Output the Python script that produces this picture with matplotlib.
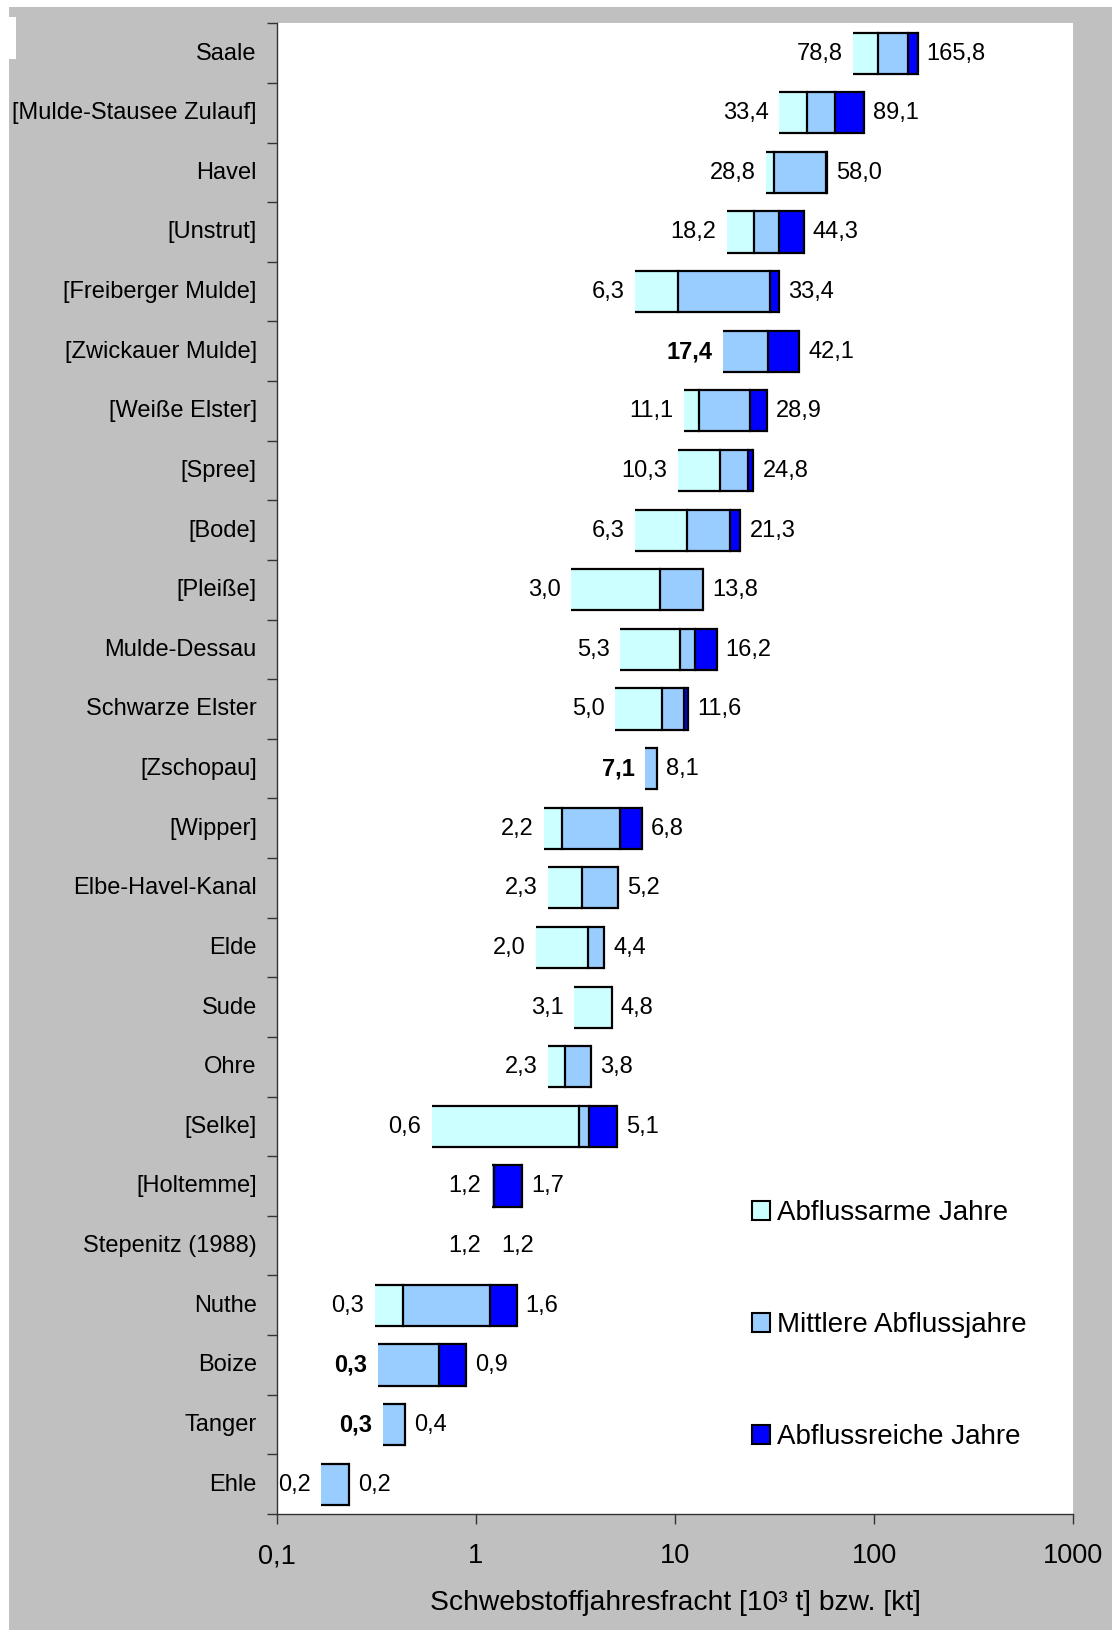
import matplotlib
matplotlib.use("Agg")
import matplotlib.pyplot as plt
import matplotlib.transforms as mtransforms
from matplotlib.patches import Patch, Rectangle
from matplotlib.ticker import FixedLocator, NullLocator, FuncFormatter

plt.rcParams['font.family'] = ['Liberation Sans', 'DejaVu Sans']

# Gewässer (von oben nach unten)
gewaesser = [
    "Saale", "[Mulde-Stausee Zulauf]", "Havel", "[Unstrut]", "[Freiberger Mulde]",
    "[Zwickauer Mulde]", "[Weiße Elster]", "[Spree]", "[Bode]", "[Pleiße]",
    "Mulde-Dessau", "Schwarze Elster", "[Zschopau]", "[Wipper]", "Elbe-Havel-Kanal",
    "Elde", "Sude", "Ohre", "[Selke]", "[Holtemme]",
    "Stepenitz (1988)", "Nuthe", "Boize", "Tanger", "Ehle",
]

# Schwebstoffjahresfracht in kt: Minimum, Grenzen der Abflussklassen, Maximum
fracht_min = [78.8, 33.4, 28.8, 18.2, 6.3, 17.4, 11.1, 10.3, 6.3, 3.0,
              5.3, 5.0, 7.1, 2.2, 2.3, 2.0, 3.1, 2.3, 0.6, 1.2,
              1.2, 0.31, 0.32, 0.34, 0.167]
grenze_arm = [105.0, 46.0, 31.5, 24.9, 10.3, 17.4, 13.2, 16.9, 11.45, 8.4,
              10.6, 8.6, 7.1, 2.7, 3.42, 3.67, 4.8, 2.8, 3.29, 1.2,
              1.2, 0.43, 0.32, 0.34, 0.167]
grenze_mittel = [148.0, 63.7, 57.6, 33.4, 30.1, 29.2, 23.7, 23.4, 18.8, 13.8,
                 12.65, 11.1, 8.1, 5.27, 5.2, 4.4, 4.8, 3.8, 3.68, 1.23,
                 1.2, 1.17, 0.65, 0.44, 0.23]
fracht_max = [165.8, 89.1, 58.0, 44.3, 33.4, 42.1, 28.9, 24.8, 21.3, 13.8,
              16.2, 11.6, 8.1, 6.8, 5.2, 4.4, 4.8, 3.8, 5.1, 1.7,
              1.2, 1.6, 0.89, 0.44, 0.23]

reihen = ["Abflussarme Jahre", "Mittlere Abflussjahre", "Abflussreiche Jahre"]
farben = ["#CCFFFF", "#99CCFF", "#0000FF"]

x_ticks = [0.1, 1, 10, 100, 1000]
x_tick_labels = ["0,1", "1", "10", "100", "1000"]

# Minimalwerte, die fett beschriftet werden
fett_min = {"[Zwickauer Mulde]", "[Zschopau]", "Boize", "Tanger"}

W, H = 1112, 1630
fig = plt.figure(figsize=(W / 100, H / 100), dpi=100, facecolor="white")

# grauer Diagrammbereich mit schmalem weißen Rand
fig.patches.append(Rectangle((9 / W, 0), 1 - 9 / W, 1 - 7 / H, transform=fig.transFigure,
                             facecolor="#C0C0C0", edgecolor="none", zorder=-10))
fig.patches.append(Rectangle((9 / W, 1 - 59 / H), 7 / W, 42 / H, transform=fig.transFigure,
                             facecolor="white", edgecolor="none", zorder=-9))

left, right = 277 / W, 1073 / W
bottom, top = (H - 1514) / H, (H - 23.3) / H
ax = fig.add_axes([left, bottom, right - left, top - bottom])
ax.set_facecolor("white")

n = len(gewaesser)
pos = list(range(n))
hoehe = 0.69

segmente = [
    (fracht_min, grenze_arm),
    (grenze_arm, grenze_mittel),
    (grenze_mittel, fracht_max),
]
for (start, ende), farbe in zip(segmente, farben):
    breiten = [e - s for s, e in zip(start, ende)]
    ax.barh(pos, breiten, left=start, height=hoehe, color=farbe,
            edgecolor="none", linewidth=0, zorder=2)

# Umrandung: oben, unten und an jeder Segmentgrenze
lw = 1.6
for i in range(n):
    lo, hi = fracht_min[i], fracht_max[i]
    if hi <= lo:
        continue
    y0, y1 = i - hoehe / 2, i + hoehe / 2
    ax.plot([lo, hi], [y0, y0], color="black", lw=lw, zorder=3, solid_capstyle="butt")
    ax.plot([lo, hi], [y1, y1], color="black", lw=lw, zorder=3, solid_capstyle="butt")
    kanten = [grenze_arm[i], grenze_mittel[i], hi]
    for k in sorted(set(kanten)):
        if lo < k <= hi:
            ax.plot([k, k], [y0, y1], color="black", lw=lw, zorder=3, solid_capstyle="projecting")

# Wertebeschriftungen
def fmt(v):
    return f"{v:.1f}".replace(".", ",")

for i, name in enumerate(gewaesser):
    ax.annotate(fmt(fracht_min[i]), xy=(fracht_min[i], i), xytext=(-7.5, -0.3),
                textcoords="offset points", ha="right", va="center", fontsize=17,
                fontweight="bold" if name in fett_min else "normal", zorder=4)
    ax.annotate(fmt(fracht_max[i]), xy=(fracht_max[i], i), xytext=(6.5, -0.3),
                textcoords="offset points", ha="left", va="center", fontsize=17, zorder=4)

ax.set_xscale("log")
ax.set_xlim(0.1, 1000)
ax.set_ylim(n - 0.5, -0.5)

ax.xaxis.set_major_locator(FixedLocator(x_ticks))
ax.xaxis.set_minor_locator(NullLocator())
ax.set_xticklabels(x_tick_labels)
ax.tick_params(axis="x", which="major", direction="out", length=7, width=1,
               color="#333333", labelsize=19.5, pad=14)

# Kategorien mittig, Teilstriche an den Grenzen
ax.yaxis.set_major_locator(FixedLocator([p - 0.5 for p in pos] + [n - 0.5]))
ax.yaxis.set_major_formatter(FuncFormatter(lambda v, p: ""))
ax.yaxis.set_minor_locator(FixedLocator(pos))
ax.set_yticklabels(gewaesser, minor=True)
ax.tick_params(axis="y", which="major", direction="out", length=7, width=1, color="#333333")
ax.tick_params(axis="y", which="minor", length=0, labelsize=17, pad=14.5)
hoch = mtransforms.ScaledTranslation(0, 1.5 / 72, fig.dpi_scale_trans)
for t in ax.get_yticklabels(minor=True):
    t.set_va("center_baseline")
    t.set_transform(t.get_transform() + hoch)

for s in ["top", "right"]:
    ax.spines[s].set_visible(False)
for s in ["left", "bottom"]:
    ax.spines[s].set_color("#333333")
    ax.spines[s].set_linewidth(1)

ax.set_xlabel("Schwebstoffjahresfracht [10³ t] bzw. [kt]", fontsize=20.3, labelpad=15)

handles = [Patch(facecolor=f, edgecolor="black", linewidth=1.5) for f in farben]
ax.legend(handles, reihen, loc="upper left", bbox_to_anchor=(752 / W, 1 - 1200 / H),
          bbox_transform=fig.transFigure, frameon=False, fontsize=20,
          handlelength=0.65, handleheight=0.65, handletextpad=0.25, labelspacing=3.1,
          borderpad=0, borderaxespad=0)

fig.savefig("out.png", dpi=100, facecolor=fig.get_facecolor())
